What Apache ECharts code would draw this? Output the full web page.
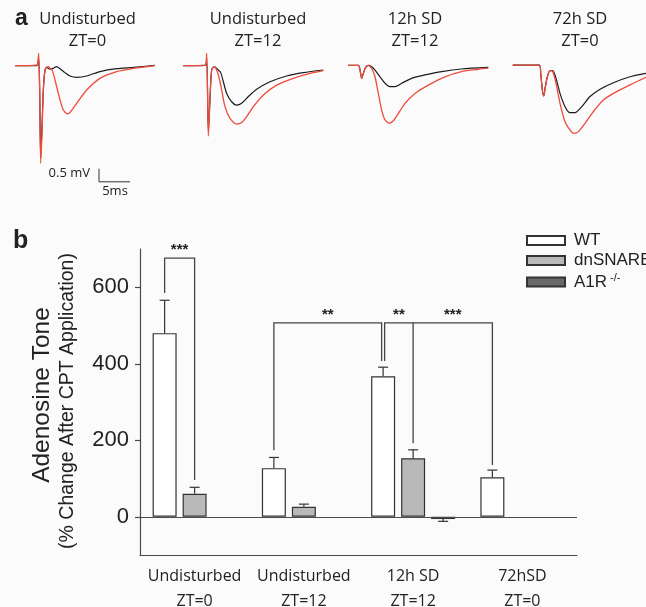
<!DOCTYPE html>
<html><head><meta charset="utf-8">
<script src="https://cdn.jsdelivr.net/npm/echarts@6/dist/echarts.min.js"></script>
<style>html,body{margin:0;padding:0;background:#fbfbfc}#c{width:646px;height:607px}</style>
</head><body><div id="c"></div>
<script>
// ---------- Panel a: field potential traces (time ms, voltage mV) ----------
const traceTitles = [['Undisturbed','ZT=0'],['Undisturbed','ZT=12'],['12h SD','ZT=12'],['72h SD','ZT=0']];
const trace1Red = [[0,0],[3.49,0.02],[3.66,0.09],[3.82,0.47],[3.98,-0.94],[4.14,-3.76],[4.35,-2.61],[4.57,-0.94],[4.84,-0.17],[5.11,-0.07],[5.38,-0.04],[5.65,-0.11],[5.91,-0.14],[6.18,-0.30],[6.72,-0.81],[7.26,-1.32],[7.80,-1.71],[8.49,-1.86],[8.98,-1.77],[9.95,-1.45],[11.56,-0.94],[13.71,-0.49],[16.40,-0.23],[19.09,-0.11],[22.58,0.0]];
const trace1Black = [[0,0],[3.49,0],[3.66,0.06],[3.82,0.30],[3.98,-0.94],[4.14,-3.55],[4.35,-2.40],[4.57,-0.94],[4.84,-0.17],[5.11,-0.07],[5.65,-0.14],[6.18,-0.10],[6.72,-0.04],[7.26,-0.12],[8.06,-0.27],[8.87,-0.40],[9.95,-0.45],[11.56,-0.40],[13.71,-0.23],[16.40,-0.12],[19.09,-0.07],[22.58,0.01]];
const trace2Red = [[0,0],[3.55,0.01],[3.82,0.47],[4.09,-2.71],[4.35,-1.32],[4.62,-0.17],[5.05,-0.04],[5.70,-0.36],[6.24,-0.94],[6.77,-1.58],[7.58,-2.03],[8.66,-2.25],[9.46,-2.19],[10.27,-1.96],[11.34,-1.58],[12.96,-1.13],[15.11,-0.75],[17.80,-0.49],[20.48,-0.30],[22.63,-0.19]];
const trace2Black = [[0,0],[3.55,0.01],[3.82,0.30],[4.09,-2.55],[4.35,-1.30],[4.62,-0.17],[5.05,-0.04],[5.70,-0.17],[6.08,-0.27],[6.51,-0.62],[7.04,-1.07],[7.85,-1.39],[8.66,-1.52],[9.46,-1.45],[10.54,-1.19],[11.88,-0.91],[14.03,-0.62],[16.72,-0.40],[19.41,-0.27],[22.63,-0.17]];
const trace3Red = [[0,0.01],[1.67,0.01],[1.94,-0.17],[2.20,-0.49],[2.47,-0.30],[2.85,-0.07],[3.28,0.01],[3.82,-0.11],[4.35,-0.43],[4.89,-1.07],[5.43,-1.71],[5.97,-2.09],[6.67,-2.22],[7.31,-2.12],[8.12,-1.84],[9.19,-1.45],[10.81,-1.07],[12.96,-0.75],[15.65,-0.43],[18.33,-0.23],[21.02,-0.14],[22.63,-0.10]];
const trace3Black = [[0,0.01],[1.67,0.01],[1.94,-0.17],[2.20,-0.49],[2.47,-0.30],[2.85,-0.07],[3.28,0.01],[3.82,-0.04],[4.35,-0.17],[5.16,-0.43],[5.97,-0.68],[6.77,-0.81],[7.58,-0.81],[8.66,-0.68],[10.27,-0.49],[12.42,-0.36],[15.11,-0.23],[18.33,-0.13],[22.63,-0.07]];
const trace4Red = [[0,0.02],[4.30,0.02],[4.52,-0.30],[4.78,-0.94],[5.00,-1.17],[5.27,-0.81],[5.59,-0.43],[6.02,-0.19],[6.45,-0.23],[6.99,-0.68],[7.63,-1.45],[8.44,-2.16],[9.25,-2.48],[9.89,-2.61],[10.59,-2.54],[11.67,-2.22],[13.01,-1.77],[14.62,-1.32],[16.77,-1.00],[19.46,-0.68],[21.51,-0.45],[23.2,-0.30]];
const trace4Black = [[0,0.02],[4.30,0.02],[4.52,-0.30],[4.78,-0.94],[5.00,-1.17],[5.27,-0.81],[5.59,-0.43],[6.02,-0.19],[6.45,-0.19],[6.99,-0.49],[7.63,-1.07],[8.44,-1.58],[9.25,-1.81],[10.05,-1.81],[11.13,-1.58],[12.47,-1.19],[14.09,-0.91],[16.24,-0.66],[18.92,-0.43],[21.51,-0.30],[23.2,-0.22]];
const scaleBarMs = 5, scaleBarMv = 0.5, scaleBarAnchor = [13.55, -4.47];

// ---------- Panel b: adenosine tone ----------
const categories = ['Undisturbed\nZT=0','Undisturbed\nZT=12','12h SD\nZT=12','72hSD\nZT=0'];
const wtMean = [480, 127, 367, 103];
const wtSem  = [86, 28, 24, 19];
const dnMean = [60, 26, 153, null];
const dnSem  = [17, 7, 22, null];
const a1rMean = [null, null, -6, null];
const a1rSem  = [null, null, 6, null];
const yTicks = [0, 200, 400, 600];

const redC = '#ef4a3a', blkC = '#1c1c1c', axC = '#4a4a4a', txtC = '#222';
const traceLefts = [15, 183, 348, 512.7];
const tracePairs = [[trace1Red,trace1Black],[trace2Red,trace2Black],[trace3Red,trace3Black],[trace4Red,trace4Black]];

const grids = [], xAxes = [], yAxes = [], series = [];
traceLefts.forEach((l, i) => {
  grids.push({left: l, top: 50, width: 140, height: 135.2, outerBoundsMode:'none', containLabel:false});
  xAxes.push({gridIndex: i, type: 'value', min: 0, max: 22.58, show: false});
  yAxes.push({gridIndex: i, type: 'value', min: -4.6, max: 0.6, show: false});
  series.push({type:'line', xAxisIndex:i, yAxisIndex:i, data: tracePairs[i][1], showSymbol:false, smooth:0.25, silent:true, clip:false,
    lineStyle:{color:blkC, width:1.2}, z:2});
  series.push({type:'line', xAxisIndex:i, yAxisIndex:i, data: tracePairs[i][0], showSymbol:false, smooth:0.25, silent:true, clip:false,
    lineStyle:{color:redC, width:1.3}, z:3});
});
// scale bar
series.push({type:'line', xAxisIndex:0, yAxisIndex:0, silent:true, showSymbol:false, clip:false,
  data:[[scaleBarAnchor[0], scaleBarAnchor[1]+scaleBarMv],[scaleBarAnchor[0], scaleBarAnchor[1]],[scaleBarAnchor[0]+scaleBarMs, scaleBarAnchor[1]]],
  lineStyle:{color:'#333', width:1}});

// bar grid
grids.push({left: 140, right: 69, top: 249, bottom: 52, outerBoundsMode:'none', containLabel:false});
xAxes.push({gridIndex:4, type:'category', data:categories,
  axisLine:{onZero:false, lineStyle:{color:axC, width:1.2}},
  axisTick:{alignWithLabel:true, length:5, lineStyle:{color:axC, width:1.2}},
  axisLabel:{interval:0, fontFamily:'Open Sans', fontSize:16, color:txtC, lineHeight:25, margin:9}});
yAxes.push({gridIndex:4, type:'value', min:-100, max:700,
  axisLine:{show:true, lineStyle:{color:axC, width:1.2}},
  axisTick:{show:true, customValues:yTicks, length:5, lineStyle:{color:axC, width:1.2}},
  axisLabel:{customValues:yTicks, fontFamily:'Liberation Sans', fontSize:22, color:txtC, margin:11},
  splitLine:{show:false}});

const BW = 24, GAP = 6;
const groups = [
  {name:'WT', mean:wtMean, sem:wtSem, fill:'#ffffff', off:-(BW+GAP)},
  {name:'dnSNARE', mean:dnMean, sem:dnSem, fill:'#b9b9b9', off:0},
  {name:'A1R', mean:a1rMean, sem:a1rSem, fill:'#686868', off:(BW+GAP)}
];
groups.forEach((g, gi) => {
  const s = {type:'bar', name:g.name, xAxisIndex:4, yAxisIndex:4, data:g.mean, barWidth:BW, barGap:'25%',
    itemStyle:{color:g.fill, borderColor:'#333', borderWidth:1.2}, silent:true, z:2};
  if (gi === 0) s.markLine = {silent:true, symbol:'none', label:{show:false}, lineStyle:{color:axC, width:1.2, type:'solid'}, data:[{yAxis:0}]};
  series.push(s);
});
groups.forEach(g => {
  const d = g.mean.map((m, i) => m == null ? null : [i, m, g.sem[i]]).filter(Boolean);
  series.push({type:'custom', xAxisIndex:4, yAxisIndex:4, data:d, silent:true, z:4,
    encode:{x:0, y:1},
    renderItem:(p, api) => {
      const i = api.value(0), m = api.value(1), s = api.value(2);
      const b = api.coord([i, m]); const t = api.coord([i, m >= 0 ? m + s : m - s]);
      const x = b[0] + g.off;
      return {type:'group', children:[
        {type:'line', shape:{x1:x, y1:b[1], x2:x, y2:t[1]}, style:{stroke:'#333', lineWidth:1.2}},
        {type:'line', shape:{x1:x-5, y1:t[1], x2:x+5, y2:t[1]}, style:{stroke:'#333', lineWidth:1.2}}
      ]};
    }});
});

const graphic = [];
const txt = (x, y, text, font, align, extra) => Object.assign({type:'text', x, y, silent:true,
  style:{text, font, fill:txtC, align:align||'center', verticalAlign:'middle'}}, extra||{});
graphic.push(txt(15, 19, 'a', 'bold 23px "Liberation Sans"', 'left'));
graphic.push(txt(13, 241, 'b', 'bold 25px "Liberation Sans"', 'left'));
[87.5, 258, 415, 580].forEach((cx, i) => {
  graphic.push(txt(cx, 19, traceTitles[i][0], '16.5px "Open Sans"'));
  graphic.push(txt(cx, 41, traceTitles[i][1], '16.5px "Open Sans"'));
});
graphic.push(txt(90, 173, '0.5 mV', '13px "Open Sans"', 'right'));
graphic.push(txt(115, 191, '5ms', '13px "Open Sans"'));
graphic.push(txt(42, 395, 'Adenosine Tone', '24.5px "Liberation Sans"', 'center', {rotation: Math.PI/2}));
graphic.push(txt(68, 401, '(% Change After CPT Application)', '19.5px "Liberation Sans"', 'center', {rotation: Math.PI/2}));

const chart = echarts.init(document.getElementById('c'), null, {renderer:'canvas'});
chart.setOption({
  backgroundColor:'#fbfbfc', animation:false,
  grid: grids, xAxis: xAxes, yAxis: yAxes, series,
  legend:{data:['WT','dnSNARE','A1R'], orient:'vertical', left:521, top:227, itemWidth:38, itemHeight:9, itemGap:3, icon:'rect',
    selectedMode:false,
    formatter: n => n === 'A1R' ? 'A1R{s|-/-}' : n,
    textStyle:{fontFamily:'Liberation Sans', fontSize:17, color:txtC, lineHeight:17, padding:[0,0,0,4], overflow:'none',
      rich:{s:{fontFamily:'Liberation Sans', fontSize:11, color:txtC, padding:[0,0,9,3]}}}},
  graphic
});

// significance brackets (positions from category index + bar offset + value)
const P = (cat, off, val) => { const p = chart.convertToPixel({gridIndex:4}, [cat, val]); return [p[0] + off, p[1]]; };
const lineStyle = {stroke:'#444', lineWidth:1.3, fill:null};
const poly = pts => ({type:'polyline', silent:true, shape:{points:pts}, style:lineStyle});
const brackets = [
  poly([P(0,-30,585), P(0,-30,676), P(0,0,676), P(0,0,96)]),
  poly([P(1,-30,174), P(1,-30,507), P(2,-31.5,507), P(2,-31.5,407)]),
  poly([P(2,-28.5,407), P(2,-28.5,507), P(3,-30,507), P(3,-30,135)]),
  poly([P(2,0,507), P(2,0,192)])
];
const star = (a, b, val, s) => { const pa = P(a[0], a[1], val), pb = P(b[0], b[1], val);
  return txt((pa[0]+pb[0])/2, pa[1] - 8, s, 'bold 15px "Liberation Sans"'); };
brackets.push(star([0,-30],[0,0],676,'***'));
brackets.push(star([1,-30],[2,-31.5],507,'**'));
brackets.push(star([2,-28.5],[2,0],507,'**'));
brackets.push(star([2,0],[3,-30],507,'***'));
chart.setOption({graphic: graphic.concat(brackets)});
</script></body></html>
